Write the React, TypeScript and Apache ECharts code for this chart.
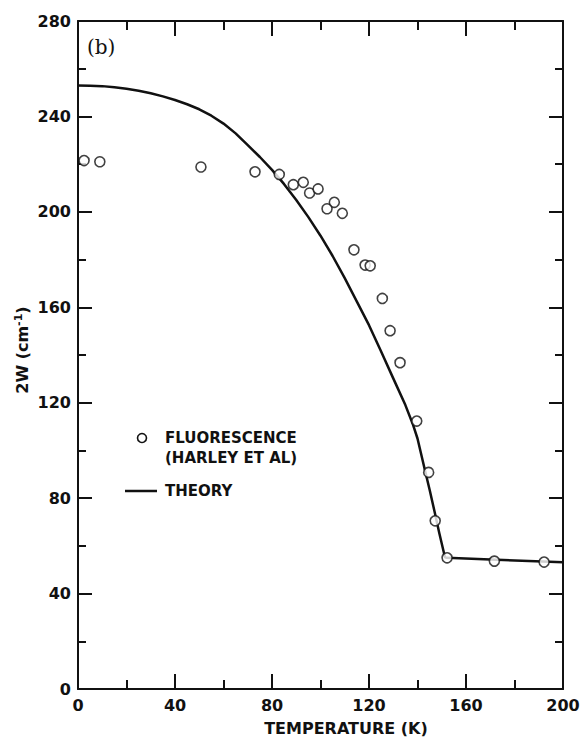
import React, { useEffect, useRef } from "react";
import * as echarts from "echarts";

// Measured fluorescence points (Harley et al): temperature (K) and 2W (cm^-1)
const fluorTemp = [2.5, 9, 50.7, 73, 83, 88.8, 92.9, 95.5, 99, 102.7, 105.7, 109, 113.8, 118.4, 120.5, 125.5, 128.7, 132.8, 139.7, 144.6, 147.3, 152.2, 171.7, 192.2];
const fluorW = [221.5, 221, 218.8, 216.8, 215.7, 211.4, 212.4, 207.9, 209.6, 201.3, 204, 199.4, 184.1, 177.7, 177.4, 163.7, 150.2, 136.8, 112.3, 90.8, 70.5, 55, 53.6, 53.2];

// Theoretical curve
const theoryTemp = [0, 5, 10, 15, 20, 25, 30, 35, 40, 45, 50, 55, 60, 65, 70, 75, 80, 85, 90, 95, 100, 105, 110, 115, 120, 125, 130, 135, 138, 140, 143, 145, 147, 149, 151.3, 152, 170, 200];
const theoryW = [253, 252.9, 252.7, 252.2, 251.6, 250.8, 249.7, 248.4, 246.9, 245.1, 243, 240.3, 237, 232.9, 228, 223, 217.6, 211.6, 205, 197.8, 190, 181.5, 172.2, 162.4, 152.5, 141.5, 130.2, 119, 111.2, 105, 92, 83.5, 74.5, 65.3, 55.3, 55, 54.3, 53.1];

const xTicks = [0, 40, 80, 120, 160, 200];
const yTicks = [0, 40, 80, 120, 160, 200, 240, 280];

const FONT = "DejaVu Sans";

export default function App() {
  const ref = useRef<HTMLDivElement>(null);

  useEffect(() => {
    if (!ref.current) return;
    const chart = echarts.init(ref.current, null, { renderer: "svg" });

    const axisLine = { show: true, onZero: false, lineStyle: { color: "#111", width: 2 } };
    const baseX = {
      type: "value" as const,
      min: xTicks[0],
      max: xTicks[xTicks.length - 1],
      interval: 40,
      axisLine,
      splitLine: { show: false },
      minorTick: { show: true, splitNumber: 2, length: 9, lineStyle: { color: "#111", width: 2 } },
      axisTick: { show: true, inside: true, length: 15, lineStyle: { color: "#111", width: 2 } },
    };
    const baseY = {
      type: "value" as const,
      min: yTicks[0],
      max: yTicks[yTicks.length - 1],
      interval: 40,
      axisLine,
      splitLine: { show: false },
      minorTick: { show: true, splitNumber: 2, length: 8, lineStyle: { color: "#111", width: 2 } },
      axisTick: { show: true, inside: true, length: 14, lineStyle: { color: "#111", width: 2 } },
    };
    const labelStyle = { color: "#111", fontFamily: FONT, fontSize: 16, fontWeight: "bold" as const };
    const legendText = { fontFamily: FONT, fontSize: 15, fontWeight: "bold" as const, fill: "#111", verticalAlign: "middle" as const };

    chart.setOption({
      animation: false,
      backgroundColor: "#fff",
      grid: { left: 78, right: 21, top: 21, bottom: 51 },
      xAxis: [
        { ...baseX, position: "bottom", axisLabel: { ...labelStyle, margin: 8 } },
        { ...baseX, position: "top", axisLabel: { show: false } },
      ],
      yAxis: [
        { ...baseY, position: "left", axisLabel: { ...labelStyle, margin: 7 } },
        { ...baseY, position: "right", axisLabel: { show: false } },
      ],
      series: [
        {
          type: "line",
          name: "THEORY",
          data: theoryTemp.map((t, i) => [t, theoryW[i]]),
          showSymbol: false,
          smooth: false,
          lineStyle: { color: "#111", width: 2.5, join: "round" },
          z: 2,
        },
        {
          type: "scatter",
          name: "FLUORESCENCE",
          data: fluorTemp.map((t, i) => [t, fluorW[i]]),
          symbol: "circle",
          symbolSize: 10,
          itemStyle: { color: "#fff", borderColor: "#111", borderWidth: 1.6 },
          z: 3,
        },
      ],
      graphic: [
        {
          type: "text",
          left: 87,
          top: 37,
          style: { text: "(b)", fontFamily: "DejaVu Serif", fontSize: 20, fill: "#111" },
        },
        {
          type: "text",
          x: 22,
          y: 350,
          rotation: Math.PI / 2,
          style: {
            text: "2W (cm{sup|-1})",
            fontFamily: FONT,
            fontSize: 16,
            fontWeight: "bold",
            fill: "#111",
            align: "center",
            verticalAlign: "middle",
            rich: { sup: { fontFamily: FONT, fontSize: 11, fontWeight: "bold", fill: "#111", verticalAlign: "top", padding: [0, 0, 8, 0] } },
          },
        },
        {
          type: "text",
          x: 346,
          y: 728,
          style: {
            text: "TEMPERATURE (K)",
            fontFamily: FONT,
            fontSize: 16,
            fontWeight: "bold",
            fill: "#111",
            align: "center",
            verticalAlign: "middle",
          },
        },
        {
          type: "circle",
          shape: { cx: 142, cy: 438, r: 4.5 },
          style: { fill: "#fff", stroke: "#111", lineWidth: 1.6 },
        },
        { type: "text", x: 165, y: 438, style: { ...legendText, text: "FLUORESCENCE" } },
        { type: "text", x: 165, y: 458, style: { ...legendText, text: "(HARLEY ET AL)" } },
        {
          type: "line",
          shape: { x1: 125, y1: 491, x2: 157, y2: 491 },
          style: { stroke: "#111", lineWidth: 2.5 },
        },
        { type: "text", x: 165, y: 491, style: { ...legendText, text: "THEORY" } },
      ],
    });

    return () => chart.dispose();
  }, []);

  return <div ref={ref} style={{ width: 584, height: 740, position: "absolute", left: 0, top: 0 }} />;
}
